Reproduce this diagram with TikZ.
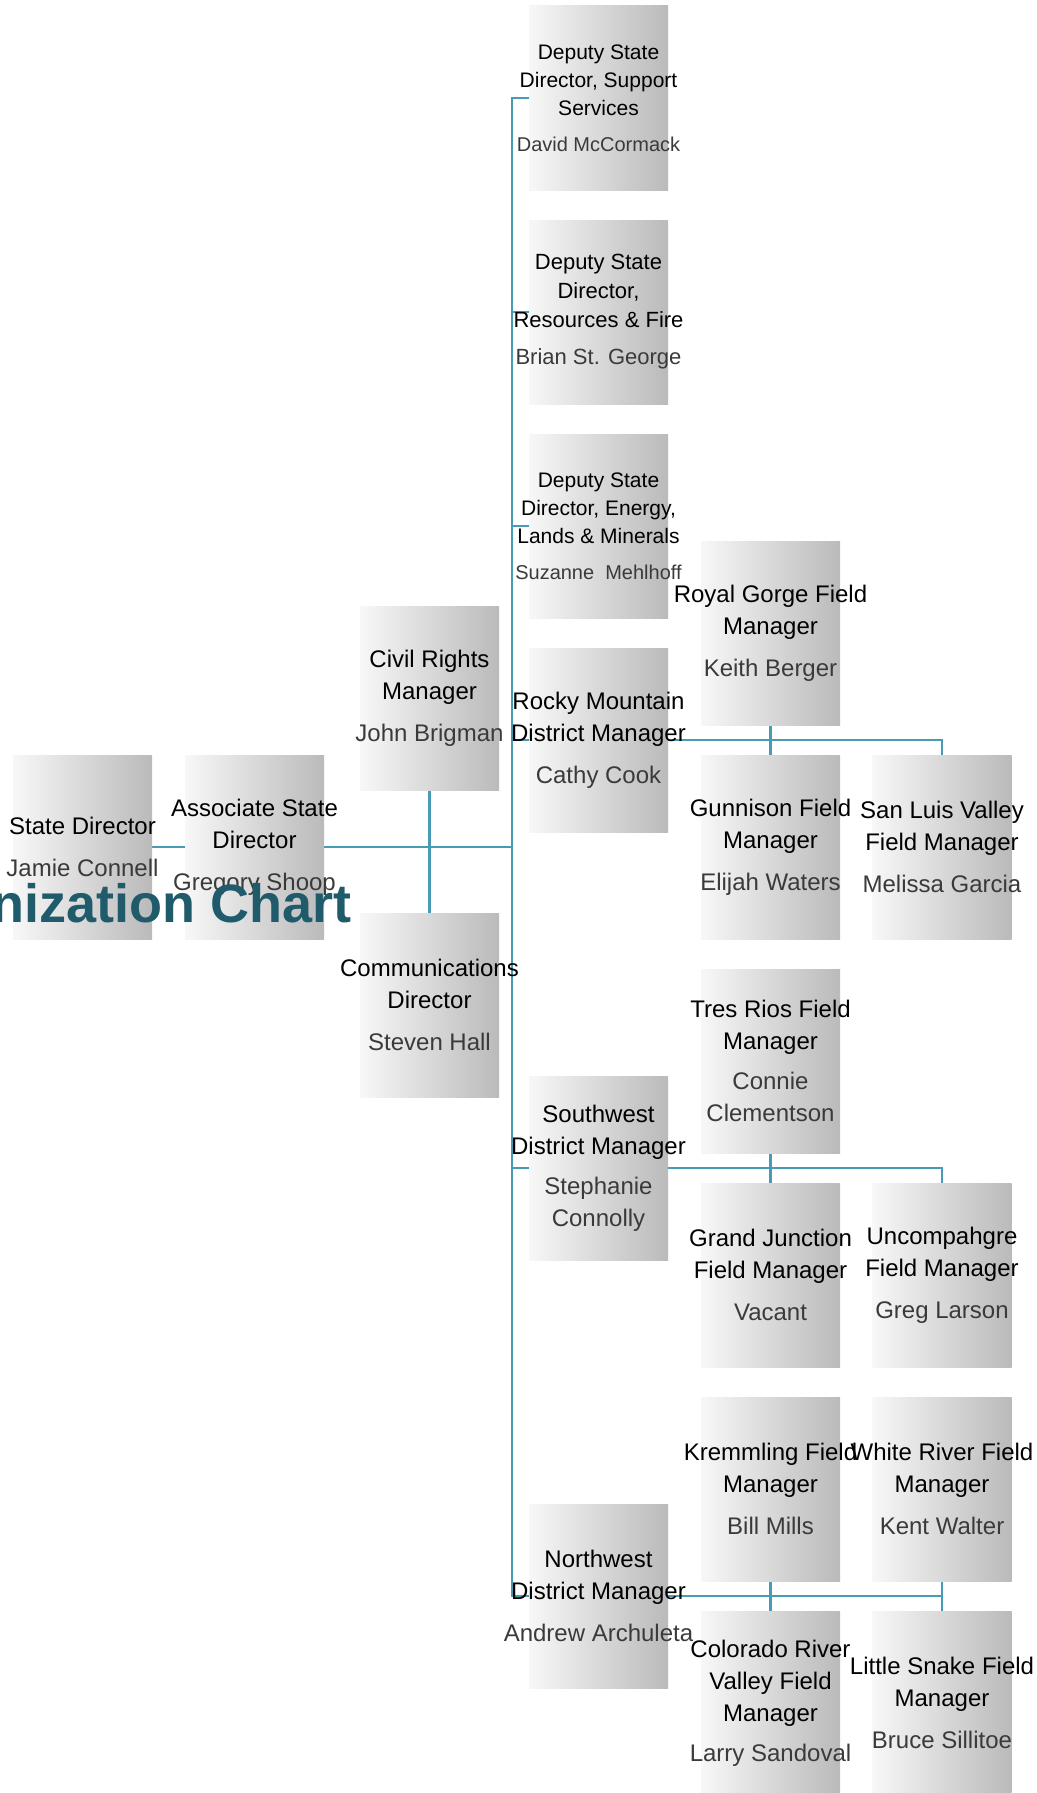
\documentclass[tikz,border=0pt]{standalone}
\usepackage{fontspec}
\setmainfont{Liberation Sans}
\usetikzlibrary{backgrounds}
\definecolor{linkblue}{RGB}{72,154,181}
\definecolor{titleteal}{RGB}{31,91,106}
\definecolor{namegray}{RGB}{58,58,58}

\begin{document}
\begin{tikzpicture}[
    x=1pt, y=-1pt,
    orgbox/.style={
        minimum width=139, minimum height=184,
        inner xsep=-30pt, inner ysep=0pt,
        left color=black!3, right color=black!27,
        align=center, text=black,
        font=\fontsize{24}{32}\selectfont,
    },
    deputybox/.style={
        orgbox,
        font=\fontsize{21}{28}\selectfont,
    },
    link/.style={
        draw=linkblue, line width=2.6,
    },
    ]
    \useasboundingbox (0,0) rectangle (1036,1793);
    \clip (0,0) rectangle (1036,1793);

    \node [orgbox] (sd) at (82.5,847) {State Director\\[10pt]\color{namegray}Jamie Connell};
    \node [orgbox] (asd) at (254.5,847) {Associate State\\Director\\[10pt]\color{namegray}Gregory Shoop};
    \node [orgbox] (crm) at (429.5,698) {Civil Rights\\Manager\\[10pt]\color{namegray}John Brigman};
    \node [orgbox] (cd) at (429.5,1005) {Communications\\Director\\[10pt]\color{namegray}Steven Hall};

    \node [deputybox] (dss) at (598.5,98) {Deputy State\\Director, Support\\Services\\[8pt]\color{namegray}\fontsize{20}{26}\selectfont David McCormack};
    \node [deputybox, font=\fontsize{22}{29}\selectfont] (dsr) at (598.5,312) {Deputy State\\Director,\\Resources \& Fire\\[8pt]\color{namegray}Brian St. George};
    \node [deputybox] (dse) at (598.5,526) {Deputy State\\Director, Energy,\\Lands \& Minerals\\[8pt]\color{namegray}\fontsize{20}{26}\selectfont Suzanne\ \ Mehlhoff};
    \node [orgbox] (rm) at (598.5,740) {Rocky Mountain\\District Manager\\[10pt]\color{namegray}Cathy Cook};
    \node [orgbox] (sw) at (598.5,1168) {Southwest\\District Manager\\[8pt]\color{namegray}Stephanie\\\color{namegray}Connolly};
    \node [orgbox] (nw) at (598.5,1596) {Northwest\\District Manager\\[10pt]\color{namegray}Andrew Archuleta};

    \node [orgbox] (rg) at (770.5,633) {Royal Gorge Field\\Manager\\[10pt]\color{namegray}Keith Berger};
    \node [orgbox] (gun) at (770.5,847) {Gunnison Field\\Manager\\[10pt]\color{namegray}Elijah Waters};
    \node [orgbox] (slv) at (942,847) {San Luis Valley\\Field Manager\\[10pt]\color{namegray}Melissa Garcia};

    \node [orgbox] (tr) at (770.5,1061) {Tres Rios Field\\Manager\\[8pt]\color{namegray}Connie\\\color{namegray}Clementson};
    \node [orgbox] (gj) at (770.5,1275) {Grand Junction\\Field Manager\\[10pt]\color{namegray}Vacant};
    \node [orgbox] (unc) at (942,1275) {Uncompahgre\\Field Manager\\[10pt]\color{namegray}Greg Larson};

    \node [orgbox] (kr) at (770.5,1489) {Kremmling Field\\Manager\\[10pt]\color{namegray}Bill Mills};
    \node [orgbox] (wr) at (942,1489) {White River Field\\Manager\\[10pt]\color{namegray}Kent Walter};
    \node [orgbox] (crv) at (770.5,1703) {Colorado River\\Valley Field\\Manager\\[8pt]\color{namegray}Larry Sandoval};
    \node [orgbox] (ls) at (942,1703) {Little Snake Field\\Manager\\[10pt]\color{namegray}Bruce Sillitoe};

    \coordinate (bus) at (512,0);

    \begin{scope}[on background layer]
        \draw [link] (sd.east) -- (asd.east);
        \draw [link] (asd.east) -- (asd.east -| bus);
        \draw [link] (crm.south) -- (cd.north);
        \draw [link] (dss.west) -| (bus |- nw.west) -- (nw.west);
        \draw [link] (dsr.west) -- (dsr.west -| bus);
        \draw [link] (dse.west) -- (dse.west -| bus);
        \draw [link] (rm.west) -- (rm.west -| bus);
        \draw [link] (sw.west) -- (sw.west -| bus);
        % district groups
        \draw [link] (rm.east) -| (slv.north);
        \draw [link] (rg.south) -- (gun.north);
        \draw [link] (sw.east) -| (unc.north);
        \draw [link] (tr.south) -- (gj.north);
        \draw [link] (nw.east) -- (nw.east -| wr.south);
        \draw [link] (wr.south) -- (ls.north);
        \draw [link] (kr.south) -- (crv.north);
    \end{scope}

    \node [anchor=base east, inner sep=0pt, text=titleteal,
        font=\fontsize{54}{60}\selectfont\bfseries] (title) at (352,922) {Organization Chart};
\end{tikzpicture}
\end{document}
